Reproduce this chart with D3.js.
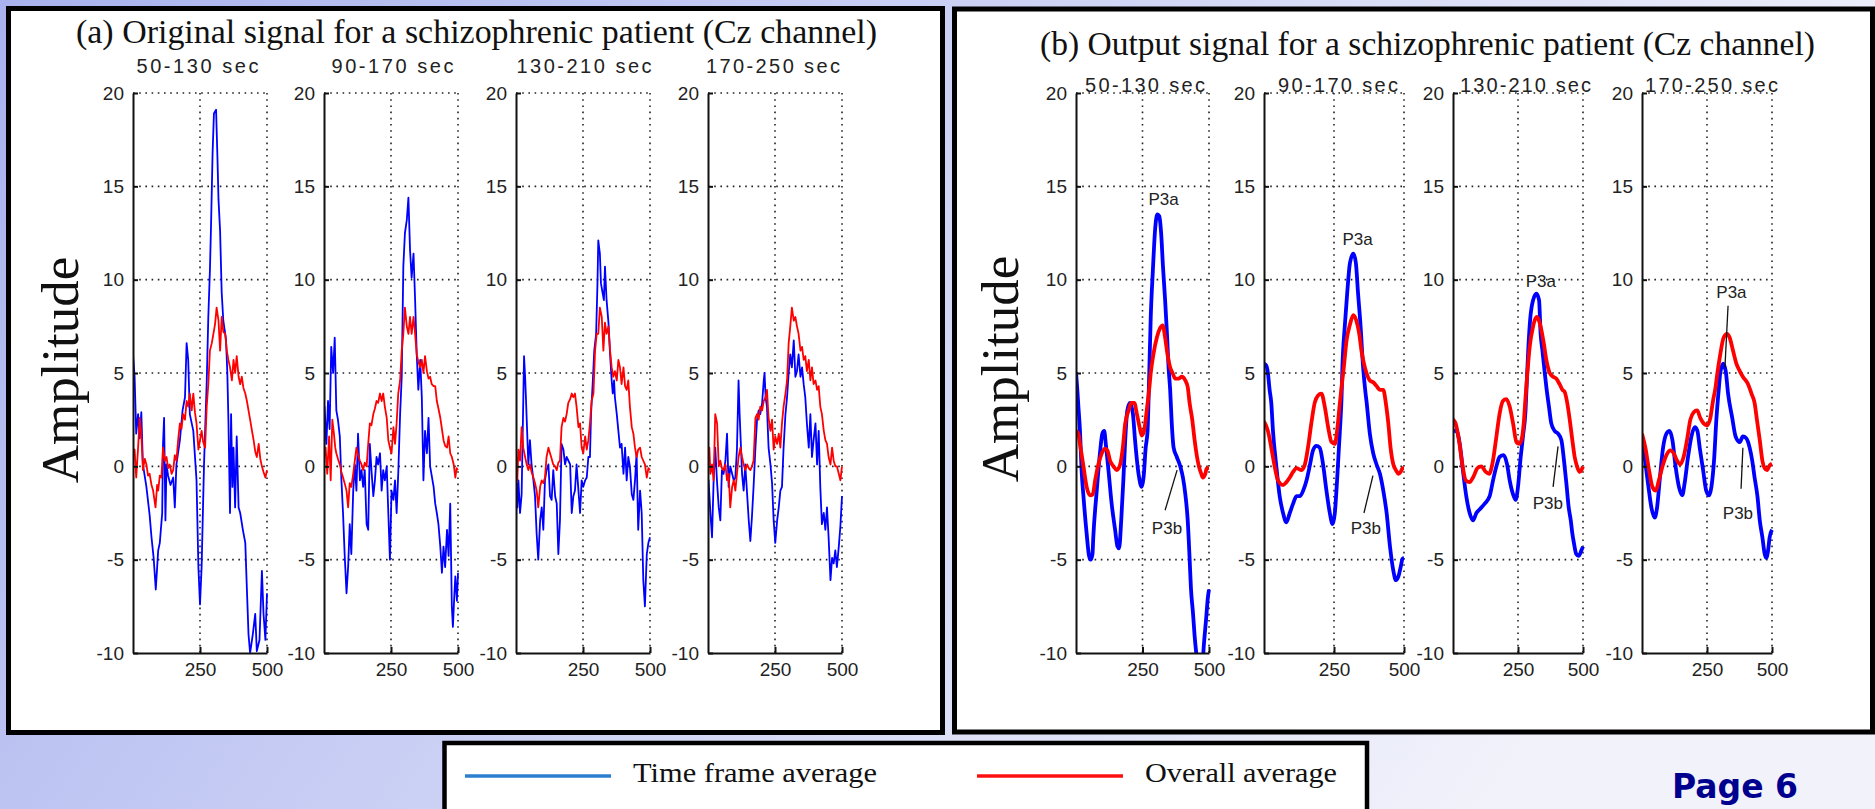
<!DOCTYPE html>
<html>
<head>
<script src="https://d3js.org/d3.v7.min.js"></script>
<style>
  body { margin: 0; overflow: hidden; }
  .tick text { font-family: "Liberation Sans", Arial, sans-serif; font-size: 19px; fill: #222; }
  .axis path, .axis line { stroke: #111; stroke-width: 2px; }
  .grid { stroke: #222; stroke-width: 1.6px; stroke-dasharray: 1.6,4.6; }
  .main-title { font-family: "Liberation Serif", "Times New Roman", serif; font-size: 34px; fill: #111; }
  .sub-title { font-family: "Liberation Sans", Arial, sans-serif; font-size: 20px; fill: #222; }
  .ylabel { font-family: "Liberation Serif", "Times New Roman", serif; font-size: 53px; fill: #111; }
  .annot { font-family: "Liberation Sans", Arial, sans-serif; font-size: 17px; fill: #222; }
  .legend-text { font-family: "Liberation Serif", "Times New Roman", serif; font-size: 27px; fill: #111; }
</style>
</head>
<body>
<script>
// ---- data ----
var windows = ["50-130 sec", "90-170 sec", "130-210 sec", "170-250 sec"];
var yTicks = [-10, -5, 0, 5, 10, 15, 20];
var xTicks = [250, 500];
var legendLabels = ["Time frame average", "Overall average"];

// (a) original signal, time frame average (blue)
var origTime1 = [[0,6.0],[6,4.8],[12,1.75],[19,2.8],[25,1.5],[31,2.9],[37,0.1],[50,-1.1],[62,-2.6],[69,-3.8],[77,-4.9],[85,-6.6],[94,-4.5],[100,-4.1],[109,-2.5],[112,1.2],[116,2.6],[121,-2.9],[125,0.1],[131,-0.5],[140,-1.0],[150,-0.6],[156,-2.2],[162,0.1],[175,1.4],[185,3.0],[194,3.7],[200,6.6],[206,5.7],[212,2.8],[225,1.9],[237,-0.75],[244,-5.4],[250,-7.4],[256,-5.4],[265,0.1],[275,4.5],[281,8.0],[287,10.5],[291,12.8],[297,16.8],[302,18.9],[310,19.1],[315,16.6],[319,14.3],[325,12.6],[331,9.3],[337,7.8],[347,6.8],[352,5.0],[356,2.5],[362,-2.5],[366,2.8],[371,-1.1],[375,1.0],[381,-2.2],[387,1.6],[394,-2.2],[400,-2.5],[410,-3.4],[419,-4.1],[425,-6.6],[431,-9.0],[437,-10.0],[447,-9.0],[456,-7.9],[462,-9.9],[472,-9.3],[481,-5.6],[487,-7.9],[494,-9.3],[500,-6.8]];
var origTime2 = [[0,-0.9],[2,3.2],[9,1.2],[15,3.5],[21,2.0],[27,6.4],[34,5.0],[40,6.9],[46,3.0],[52,2.5],[59,1.6],[65,-0.75],[71,-2.5],[77,-4.7],[84,-6.8],[90,-5.4],[96,-3.1],[102,-4.7],[109,-1.3],[115,0.1],[121,-1.3],[127,1.75],[134,-0.75],[140,-0.2],[146,-1.1],[152,-0.2],[159,-3.1],[165,-3.4],[171,1.2],[177,-0.2],[184,-1.6],[190,-0.75],[196,0.5],[202,0.1],[209,0.7],[215,-1.3],[221,-0.2],[227,-0.75],[234,0],[240,-2.5],[246,-5.0],[252,-1.3],[259,-1.8],[265,-0.75],[271,-2.5],[277,-0.4],[284,2.8],[290,4.8],[296,10.7],[302,12.5],[309,13.2],[315,14.4],[321,11.6],[327,10.1],[334,11.4],[340,8.9],[346,6.0],[352,4.1],[359,5.7],[365,3.7],[371,-0.75],[377,1.9],[384,0.7],[390,2.6],[396,0],[409,-1.1],[415,-2.0],[421,-2.5],[427,-3.1],[434,-4.3],[440,-5.7],[446,-4.3],[452,-5.4],[459,-3.4],[465,-4.8],[471,-2.0],[477,-7.5],[481,-8.6],[486,-7.0],[490,-5.9],[496,-7.2],[500,-5.7]];
var origTime3 = [[0,-3.6],[2,-0.9],[5,-2.2],[9,-0.75],[15,-2.5],[21,-1.5],[25,1.75],[30,5.9],[34,4.8],[37,3.7],[40,2.5],[46,0.1],[52,1.4],[58,0.1],[65,-0.75],[71,-1.6],[77,-3.6],[83,-5.0],[90,-2.9],[96,-2.2],[102,-3.4],[108,-0.75],[114,-0.2],[121,0.1],[127,-1.6],[133,-1.8],[139,-0.2],[146,-1.6],[152,-2.0],[158,-4.7],[164,-2.9],[170,1.2],[177,0.9],[183,0.1],[189,0.5],[202,0.1],[208,-2.5],[214,-1.6],[220,-1.3],[226,0.1],[233,-1.3],[239,-2.5],[245,-0.75],[251,-1.1],[258,-0.75],[264,-0.6],[270,0.5],[276,0.5],[280,2.8],[286,4.4],[292,6.2],[299,7.1],[304,9.8],[307,12.1],[313,11.4],[317,9.8],[323,9.3],[328,8.9],[332,10.7],[338,8.9],[345,7.7],[351,6.0],[357,4.6],[361,3.9],[366,4.6],[369,3.7],[376,2.8],[382,1.9],[388,1.0],[394,1.2],[401,-0.4],[407,1.0],[413,-0.75],[419,0.5],[425,0],[432,-1.5],[438,-1.8],[444,-0.75],[450,0.7],[456,-3.4],[463,-1.3],[469,-2.5],[475,-6.1],[481,-7.5],[488,-4.7],[494,-4.1],[500,-3.8]];
var origTime4 = [[0,-2.4],[2,-0.75],[9,-2.5],[15,-3.8],[21,-0.75],[27,1.0],[34,-0.9],[40,-2.2],[46,-2.9],[52,-0.2],[58,-0.4],[65,0.3],[71,1.75],[77,-1.1],[83,0],[90,-0.4],[96,-0.75],[102,-0.6],[108,0.9],[114,4.6],[118,2.8],[127,-0.4],[133,-1.3],[139,0.1],[146,-1.5],[152,-2.9],[158,-4.0],[164,-2.7],[170,-1.1],[177,1.0],[183,2.5],[189,3.0],[195,2.8],[202,3.4],[208,4.6],[211,5.0],[215,3.7],[220,3.2],[226,1.0],[233,0.1],[239,-0.9],[245,-2.9],[251,-4.1],[258,-2.9],[264,-2.2],[270,-1.3],[276,-1.1],[282,1.0],[289,2.8],[295,3.7],[301,5.0],[307,6.0],[313,5.3],[320,6.75],[326,4.8],[332,5.1],[338,6.0],[345,4.8],[351,5.3],[357,4.4],[363,3.7],[369,2.3],[376,1.0],[382,2.8],[388,0.5],[394,1.4],[401,2.3],[407,0.1],[413,1.9],[419,-1.1],[425,-3.1],[432,-2.5],[438,-3.4],[444,-2.2],[450,-3.8],[457,-6.1],[463,-4.9],[469,-5.2],[475,-4.5],[481,-5.4],[488,-4.3],[494,-3.2],[500,-1.6]];

// (a) original signal, overall average (red)
var origAll1 = [[0,0.5],[6,0.9],[12,-0.6],[19,1.0],[25,2.6],[31,1.75],[37,-0.2],[44,0.4],[50,0.1],[56,-0.5],[62,-0.4],[69,-1.0],[75,-1.3],[84,-2.2],[90,-1.0],[94,-1.3],[100,-0.5],[106,-0.6],[112,1.0],[119,0.3],[125,0.5],[131,-0.1],[137,0.1],[144,-0.4],[150,-0.2],[156,0.6],[162,0.3],[169,1.5],[175,2.3],[181,2.0],[187,2.8],[194,2.5],[200,3.5],[206,3.2],[212,3.9],[219,3.0],[225,3.9],[231,2.9],[237,2.3],[244,0.9],[250,1.4],[256,1.9],[262,1.3],[269,1.0],[275,3.2],[281,4.4],[287,6.2],[294,6.6],[300,7.1],[306,7.6],[312,8.5],[319,7.8],[325,6.2],[331,8.0],[337,7.2],[344,7.1],[350,6.2],[356,5.7],[362,5.3],[369,4.6],[375,5.7],[381,5.0],[387,5.9],[394,4.8],[400,4.4],[406,4.8],[412,4.2],[419,3.9],[425,3.5],[431,3.0],[437,2.5],[444,1.9],[450,1.4],[456,0.8],[462,0.5],[469,1.2],[475,0.4],[481,0],[487,-0.3],[494,-0.6],[500,-0.2]];
var origAll2 = [[0,0.5],[6,1.0],[12,-0.4],[19,1.6],[25,-0.75],[31,2.5],[37,1.75],[42,1.0],[46,0.7],[52,0.4],[59,0.1],[65,-0.3],[71,-0.6],[77,-0.9],[84,-1.3],[90,-2.2],[96,-0.9],[102,-1.1],[109,-0.4],[115,0.3],[121,1.0],[127,0.6],[134,0.3],[140,0.1],[146,-0.2],[152,0.2],[159,0],[165,1.2],[171,2.3],[177,2.2],[184,2.8],[190,3.1],[196,3.5],[202,3.4],[209,3.9],[215,3.5],[221,3.9],[227,3.2],[234,2.6],[240,1.4],[246,1.0],[252,0.7],[259,2.1],[265,1.2],[271,2.3],[277,3.9],[284,4.6],[290,6.2],[296,7.1],[302,8.5],[309,7.5],[315,7.1],[321,8.0],[327,7.1],[334,8.0],[340,7.1],[346,6.0],[352,5.6],[359,5.3],[365,5.7],[371,5.0],[377,5.9],[384,5.1],[390,4.7],[396,4.8],[402,4.4],[409,4.3],[415,4.3],[421,3.5],[427,3.1],[434,2.6],[440,2.0],[446,1.4],[452,1.1],[459,1.0],[465,1.6],[471,0.7],[477,0.5],[484,0.1],[490,-0.6],[495,-0.1],[500,-0.2]];
var origAll3 = [[0,0.7],[5,-0.75],[9,0.9],[15,0.3],[21,2.1],[27,1.0],[34,0.5],[40,0.1],[46,-0.2],[52,0.1],[58,-0.3],[65,-0.6],[71,-0.9],[77,-1.3],[83,-2.2],[90,-1.1],[96,-0.75],[102,-0.9],[108,-0.6],[114,0.5],[121,1.0],[127,0.7],[133,0.4],[139,0.1],[146,0],[152,-0.2],[158,0.2],[164,0.3],[170,2.1],[177,2.6],[183,2.4],[189,2.8],[195,3.4],[202,3.6],[208,3.9],[214,3.7],[220,3.9],[226,3.2],[233,2.1],[239,2.3],[245,1.0],[251,0.7],[258,1.6],[264,0.9],[270,1.4],[276,2.3],[282,3.5],[289,3.9],[295,6.2],[301,7.1],[307,7.1],[313,8.5],[320,8.0],[326,6.2],[332,7.7],[338,7.1],[345,7.5],[351,6.2],[357,5.3],[363,4.8],[369,5.1],[376,4.6],[382,5.7],[388,5.3],[394,4.4],[401,5.3],[407,4.3],[413,4.1],[419,4.6],[425,3.2],[432,2.1],[438,1.75],[444,1.0],[450,0.5],[456,0.9],[463,1.0],[469,0.5],[475,0.3],[481,0.1],[488,-0.6],[494,-0.1],[500,-0.2]];
var origAll4 = [[0,0.5],[5,1.0],[9,-0.4],[15,0.1],[21,-0.75],[27,2.8],[34,2.3],[40,0],[46,0.3],[52,-0.1],[58,-0.2],[65,0.1],[71,-0.75],[77,-0.4],[83,-2.2],[90,-1.1],[96,-0.75],[102,-1.3],[108,-0.4],[114,0.5],[121,1.0],[127,0.5],[133,0.1],[139,-0.2],[146,0.1],[152,-0.1],[158,-0.2],[164,0],[170,0.3],[177,2.6],[183,2.8],[189,2.5],[195,3.2],[202,3.0],[208,3.5],[215,3.7],[220,4.1],[226,2.6],[233,1.9],[239,2.5],[245,0.9],[251,1.6],[258,1.2],[264,1.75],[270,1.0],[276,2.3],[282,3.2],[289,3.9],[295,4.6],[301,6.6],[307,7.5],[313,8.5],[320,7.8],[326,8.0],[332,7.5],[338,7.1],[345,6.2],[351,6.4],[357,5.7],[363,5.9],[369,5.1],[376,5.7],[382,4.6],[388,5.3],[394,4.4],[401,4.6],[407,4.1],[413,4.3],[419,3.2],[425,2.8],[432,1.9],[438,1.4],[444,1.2],[450,0.5],[457,0.1],[463,1.0],[469,0.3],[475,0],[481,0],[488,-0.4],[494,-0.75],[500,0]];

// (b) output signal, time frame average (blue)
var outTime1 = [[0,5.05],[5,4.1],[9,3.2],[15,1.9],[21,-0.2],[28,-1.6],[40,-3.6],[49,-4.8],[55,-5.0],[62,-4.7],[65,-3.8],[78,-1.3],[90,0.7],[99,1.75],[106,1.9],[112,1.2],[122,-0.2],[134,-2.0],[147,-3.4],[156,-4.3],[162,-4.4],[170,-2.9],[178,-0.75],[185,1.4],[193,3.0],[203,3.4],[214,2.8],[222,1.4],[235,-0.4],[247,-1.1],[254,-0.6],[262,1.0],[269,1.9],[275,4.8],[281,8.0],[289,10.5],[298,12.8],[306,13.5],[313,13.4],[320,12.5],[327,10.7],[335,8.9],[342,7.1],[348,5.3],[354,4.1],[360,2.3],[367,1.0],[379,0.5],[392,0],[402,-0.6],[411,-1.5],[420,-2.9],[427,-4.9],[432,-6.5],[440,-7.9],[446,-9.1],[452,-10.0],[461,-11.0],[474,-11.0],[480,-9.7],[489,-8.2],[496,-7.0],[500,-6.6]];
var outTime2 = [[0,5.5],[8,5.4],[14,5.0],[20,4.1],[26,3.4],[32,1.9],[44,0],[56,-1.6],[68,-2.5],[80,-3.0],[92,-2.5],[104,-2.0],[116,-1.6],[128,-1.6],[140,-1.3],[152,-0.75],[163,0],[175,0.85],[187,1.1],[199,1.0],[211,0.1],[223,-1.3],[235,-2.5],[245,-3.1],[253,-2.5],[261,-0.75],[271,1.9],[277,3.7],[280,5.3],[289,7.6],[297,9.25],[307,10.9],[319,11.4],[328,10.9],[336,9.25],[345,7.5],[354,5.3],[362,4.0],[366,3.5],[378,1.75],[390,0.7],[402,0.1],[414,-0.4],[426,-1.3],[438,-2.5],[450,-4.3],[462,-5.6],[471,-6.1],[480,-5.9],[488,-5.4],[495,-4.95],[500,-4.9]];
var outTime3 = [[0,1.9],[13,1.9],[26,1.2],[38,-0.2],[51,-1.6],[64,-2.5],[77,-2.9],[90,-2.5],[103,-2.3],[122,-2.0],[141,-1.6],[154,-0.75],[167,0],[179,0.5],[195,0.6],[208,0.1],[218,-0.75],[231,-1.5],[241,-1.8],[250,-1.1],[259,0.3],[269,1.6],[279,3.0],[284,4.6],[290,6.4],[297,7.9],[308,8.9],[321,9.25],[331,8.9],[337,7.1],[344,6.2],[353,5.0],[359,4.25],[369,3.2],[378,2.3],[391,1.9],[404,1.75],[417,1.4],[427,0.3],[436,-0.9],[445,-2.2],[453,-2.9],[459,-3.6],[465,-4.1],[474,-4.7],[483,-4.8],[494,-4.5],[500,-4.3]];
var outTime4 = [[0,1.6],[10,0.5],[23,-0.9],[36,-2.2],[49,-2.75],[58,-2.2],[68,-0.75],[81,1.0],[94,1.75],[106,1.9],[117,1.4],[129,0],[142,-1.1],[155,-1.55],[164,-0.9],[177,0.5],[190,1.6],[203,2.1],[213,1.9],[222,1.0],[235,-0.2],[247,-1.3],[258,-1.55],[267,-1.1],[277,0.3],[286,2.5],[296,4.25],[301,5.0],[312,5.5],[322,5.1],[331,3.9],[347,2.6],[360,1.6],[376,1.3],[388,1.6],[401,1.5],[414,1.0],[424,0.3],[433,-0.6],[444,-1.6],[453,-2.9],[463,-3.8],[472,-4.7],[478,-4.9],[485,-4.5],[491,-3.8],[500,-3.4]];

// (b) output signal, overall average (red)
var outAll1 = [[0,1.9],[9,1.75],[15,1.2],[28,0],[40,-1.1],[53,-1.55],[63,-1.5],[72,-0.75],[84,0.1],[97,0.7],[109,0.95],[118,0.85],[128,0.3],[141,0],[153,-0.2],[166,0.1],[176,1.0],[185,2.3],[198,3.0],[207,3.4],[219,3.4],[229,2.8],[239,2.1],[247,1.65],[256,1.9],[266,3.0],[276,4.25],[281,5.0],[291,6.0],[304,6.9],[316,7.4],[326,7.55],[335,6.9],[344,6.0],[354,5.3],[363,5.0],[373,4.7],[385,4.7],[398,4.8],[411,4.6],[420,4.25],[427,3.4],[437,2.5],[446,1.4],[455,0.5],[462,0],[471,-0.4],[477,-0.6],[486,-0.4],[492,-0.1],[500,-0.1]];
var outAll2 = [[0,2.4],[14,1.9],[26,1.0],[38,0],[50,-0.75],[68,-1.0],[80,-0.85],[92,-0.6],[104,-0.3],[116,-0.1],[134,-0.2],[146,0.1],[157,1.0],[169,2.3],[181,3.4],[193,3.8],[205,3.9],[217,3.2],[229,2.1],[241,1.3],[253,1.2],[261,1.9],[271,3.4],[277,4.25],[285,5.3],[295,6.75],[307,7.6],[319,8.1],[330,7.8],[340,7.1],[348,6.2],[357,5.5],[366,5.0],[378,4.6],[390,4.5],[402,4.3],[414,4.1],[426,4.1],[435,3.4],[444,2.3],[452,1.0],[462,0.1],[471,-0.2],[480,-0.4],[488,-0.3],[495,-0.1],[500,-0.1]];
var outAll3 = [[0,2.5],[10,2.3],[23,1.4],[36,0.1],[49,-0.75],[64,-0.85],[77,-0.6],[94,-0.1],[109,0],[126,-0.3],[139,-0.4],[151,0.1],[167,1.6],[179,2.8],[192,3.5],[205,3.6],[218,3.2],[231,2.3],[244,1.3],[254,1.2],[263,1.4],[272,2.3],[279,3.7],[285,4.8],[295,6.4],[308,7.5],[321,8.0],[331,7.8],[340,7.3],[349,6.6],[359,5.7],[372,5.0],[385,4.8],[397,4.7],[410,4.4],[421,4.1],[429,4.0],[438,3.5],[449,2.5],[459,1.4],[468,0.5],[477,0],[487,-0.3],[494,-0.2],[500,0]];
var outAll4 = [[0,1.75],[13,1.0],[27,-0.2],[40,-1.1],[53,-1.3],[65,-0.75],[81,0.1],[94,0.6],[109,0.85],[122,0.7],[135,0.3],[147,0.1],[160,0.5],[173,1.4],[186,2.5],[199,2.9],[212,3.0],[224,2.6],[237,2.3],[250,2.2],[263,2.6],[273,3.5],[283,4.25],[288,4.8],[301,6.0],[314,6.9],[327,7.1],[337,6.9],[350,6.2],[363,5.5],[376,5.1],[388,4.8],[408,4.4],[421,3.9],[433,3.4],[442,2.5],[453,1.4],[463,0.3],[472,-0.1],[481,-0.2],[491,0.05],[500,0.15]];

// peak labels in (b): [time, amplitude] of the label, and leader line ends
var p3aText = [[329,14.0],[334,11.85],[338,9.6],[344,9.0]];
var p3bText = [[342,-3.6],[364,-3.65],[365,-2.3],[369,-2.8]];
var p3aLeader = [null, null, null, [[331,8.6],[319,5.3]]];
var p3bLeader = [[[380,-0.2],[335,-2.35]],[[389,-0.5],[357,-2.5]],[[404,1.07],[385,-1.1]],[[388,1.0],[381,-1.2]]];

// ---- drawing ----
var W = 1875, H = 809;
var svg = d3.select("body").append("svg").attr("width", W).attr("height", H);
var defs = svg.append("defs");

var bg = defs.append("linearGradient").attr("id", "bg").attr("x1", "0").attr("y1", "0").attr("x2", "1").attr("y2", "0.3");
bg.append("stop").attr("offset", "0%").attr("stop-color", "#a9b2ee");
bg.append("stop").attr("offset", "45%").attr("stop-color", "#c9cff4");
bg.append("stop").attr("offset", "100%").attr("stop-color", "#f1f2fa");
svg.append("rect").attr("width", W).attr("height", H).attr("fill", "url(#bg)");

// panel frames
svg.append("rect").attr("x", 8.5).attr("y", 8.5).attr("width", 934).attr("height", 724)
  .attr("fill", "#fff").attr("stroke", "#000").attr("stroke-width", 5);
svg.append("rect").attr("x", 954.5).attr("y", 9).attr("width", 918).attr("height", 723)
  .attr("fill", "#fff").attr("stroke", "#000").attr("stroke-width", 5);

svg.append("text").attr("class", "main-title").attr("x", 76).attr("y", 43)
  .attr("textLength", 801).attr("lengthAdjust", "spacingAndGlyphs")
  .text("(a) Original signal for a schizophrenic patient (Cz channel)");
svg.append("text").attr("class", "main-title").attr("x", 1040).attr("y", 55)
  .attr("textLength", 775).attr("lengthAdjust", "spacingAndGlyphs")
  .text("(b) Output signal for a schizophrenic patient (Cz channel)");

svg.append("text").attr("class", "ylabel").attr("transform", "translate(78,370) rotate(-90)")
  .attr("text-anchor", "middle").text("Amplitude");
svg.append("text").attr("class", "ylabel").attr("transform", "translate(1018,369) rotate(-90)")
  .attr("text-anchor", "middle").text("Amplitude");

var y = d3.scaleLinear().domain([-10, 20]).range([653, 93]);

function drawSubplot(id, x0, x1, title, tx, ty, tlen, blue, red, lw, curve) {
  var x = d3.scaleLinear().domain([0, 500]).range([x0, x1]);
  var g = svg.append("g");

  defs.append("clipPath").attr("id", "clip" + id).append("rect")
    .attr("x", x0).attr("y", y(20) - 2).attr("width", x1 - x0 + 2).attr("height", y(-10) - y(20) + 2);

  // dotted grid
  g.selectAll(".gy").data(yTicks.filter(function(d) { return d > -10; })).enter().append("line")
    .attr("class", "grid").attr("x1", x0).attr("x2", x1)
    .attr("y1", function(d) { return y(d); }).attr("y2", function(d) { return y(d); });
  g.selectAll(".gx").data(xTicks).enter().append("line")
    .attr("class", "grid").attr("y1", y(20)).attr("y2", y(-10))
    .attr("x1", function(d) { return x(d); }).attr("x2", function(d) { return x(d); });

  var line = d3.line().curve(curve)
    .x(function(d) { return x(d[0]); })
    .y(function(d) { return y(d[1]); });

  var lines = g.append("g").attr("clip-path", "url(#clip" + id + ")");
  lines.append("path").attr("d", line(blue)).attr("fill", "none")
    .attr("stroke", "#0000ff").attr("stroke-width", lw).attr("stroke-linejoin", "round");
  lines.append("path").attr("d", line(red)).attr("fill", "none")
    .attr("stroke", "#ff0000").attr("stroke-width", lw).attr("stroke-linejoin", "round");

  g.append("g").attr("class", "axis").attr("transform", "translate(" + x0 + ",0)")
    .call(d3.axisLeft(y).tickValues(yTicks).tickSize(-5).tickSizeOuter(0).tickPadding(9)
      .tickFormat(function(d) { return String(d); }));
  g.append("g").attr("class", "axis").attr("transform", "translate(0," + y(-10) + ")")
    .call(d3.axisBottom(x).tickValues(xTicks).tickSize(-6).tickSizeOuter(0).tickPadding(10));
  g.selectAll(".axis text").attr("font-family", null).attr("font-size", null);
  g.selectAll(".axis").attr("font-family", null).attr("font-size", null);

  g.append("text").attr("class", "sub-title").attr("x", tx).attr("y", ty)
    .attr("text-anchor", "middle").attr("textLength", tlen).attr("lengthAdjust", "spacing")
    .text(title);
  return x;
}

var aLeft = [133, 324, 516, 708];
var aTitleX = [197.5, 392.5, 584, 773];
var aTitleW = [122, 122, 135, 134];
var origTime = [origTime1, origTime2, origTime3, origTime4];
var origAll = [origAll1, origAll2, origAll3, origAll4];
windows.forEach(function(w, i) {
  drawSubplot("a" + i, aLeft[i], aLeft[i] + 134, w, aTitleX[i], 73, aTitleW[i],
    origTime[i], origAll[i], 1.8, d3.curveLinear);
});

var bLeft = [1076, 1264, 1453, 1642];
var bRight = [1209, 1404, 1583, 1772];
var bTitleX = [1145, 1338, 1525.5, 1711.5];
var bTitleW = [120, 120, 131, 133];
var outTime = [outTime1, outTime2, outTime3, outTime4];
var outAll = [outAll1, outAll2, outAll3, outAll4];
windows.forEach(function(w, i) {
  var x = drawSubplot("b" + i, bLeft[i], bRight[i], w, bTitleX[i], 92, bTitleW[i],
    outTime[i], outAll[i], 3.8, d3.curveMonotoneX);
  var g = svg.append("g");
  g.append("text").attr("class", "annot").attr("text-anchor", "middle")
    .attr("x", x(p3aText[i][0])).attr("y", y(p3aText[i][1])).text("P3a");
  g.append("text").attr("class", "annot").attr("text-anchor", "middle")
    .attr("x", x(p3bText[i][0])).attr("y", y(p3bText[i][1])).text("P3b");
  [p3aLeader[i], p3bLeader[i]].forEach(function(l) {
    if (!l) return;
    g.append("line").attr("stroke", "#111").attr("stroke-width", 1.3)
      .attr("x1", x(l[0][0])).attr("y1", y(l[0][1]))
      .attr("x2", x(l[1][0])).attr("y2", y(l[1][1]));
  });
});

// legend
var leg = svg.append("g");
leg.append("rect").attr("x", 444.5).attr("y", 743).attr("width", 922.5).attr("height", 100)
  .attr("fill", "#fff").attr("stroke", "#000").attr("stroke-width", 4.5);
var legColors = ["#2a7fcf", "#ff1010"];
var legLineX = [465, 977];
var legTextX = [633, 1145];
var legTextW = [244, 192];
legendLabels.forEach(function(t, i) {
  leg.append("line").attr("x1", legLineX[i]).attr("x2", legLineX[i] + 146)
    .attr("y1", 776).attr("y2", 776).attr("stroke", legColors[i]).attr("stroke-width", 3.5);
  leg.append("text").attr("class", "legend-text").attr("x", legTextX[i]).attr("y", 782)
    .attr("textLength", legTextW[i]).attr("lengthAdjust", "spacingAndGlyphs").text(t);
});

svg.append("text").attr("x", 1672).attr("y", 798)
  .attr("font-family", "'DejaVu Sans', Verdana, sans-serif").attr("font-weight", "bold")
  .attr("font-size", 33).attr("fill", "#00008f").text("Page 6");
</script>
</body>
</html>
